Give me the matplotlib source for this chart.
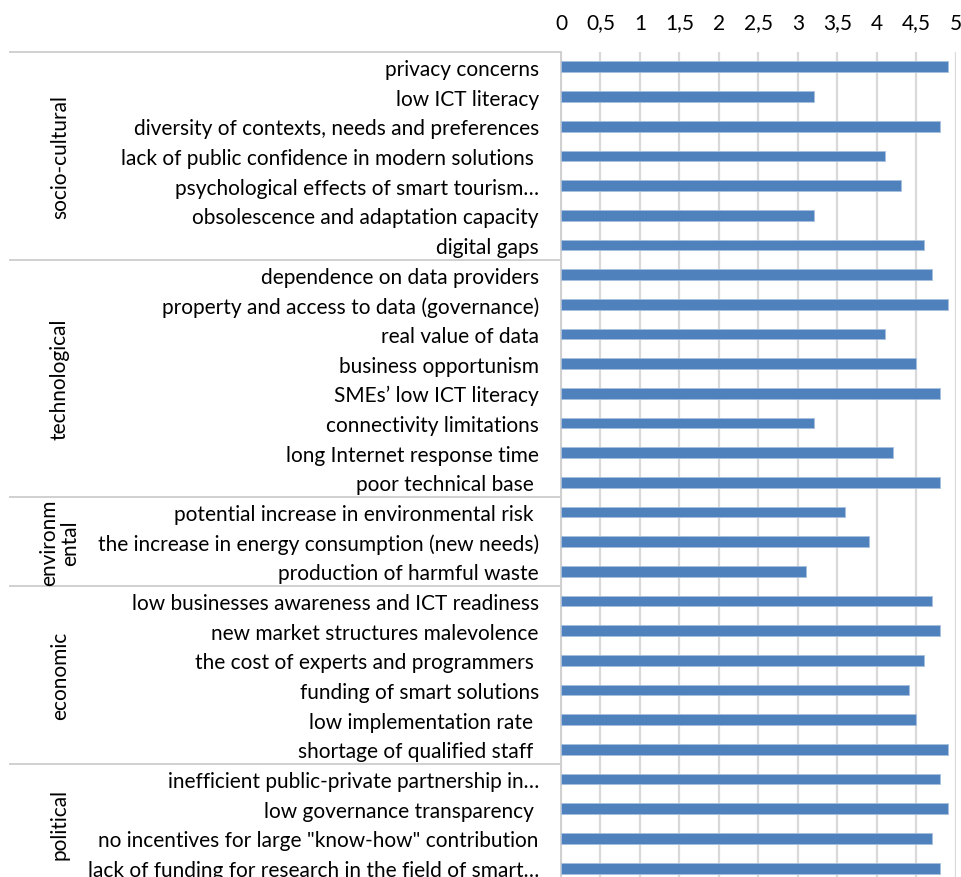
import matplotlib.pyplot as plt
import matplotlib.transforms as mtransforms
from matplotlib.ticker import FuncFormatter, MultipleLocator

# barriers, top to bottom
labels = [
    "privacy concerns",
    "low ICT literacy",
    "diversity of contexts, needs and preferences",
    "lack of public confidence in modern solutions ",
    "psychological effects of smart tourism\u2026",
    "obsolescence and adaptation capacity",
    "digital gaps",
    "dependence on data providers",
    "property and access to data (governance)",
    "real value of data",
    "business opportunism",
    "SMEs\u2019 low ICT literacy",
    "connectivity limitations",
    "long Internet response time",
    "poor technical base ",
    "potential increase in environmental risk ",
    "the increase in energy consumption (new needs)",
    "production of harmful waste",
    "low businesses awareness and ICT readiness",
    "new market structures malevolence",
    "the cost of experts and programmers ",
    "funding of smart solutions",
    "low implementation rate ",
    "shortage of qualified staff ",
    "inefficient public-private partnership in\u2026",
    "low governance transparency ",
    "no incentives for large \"know-how\" contribution",
    "lack of funding for research in the field of smart\u2026",
]
values = [4.9, 3.2, 4.8, 4.1, 4.3, 3.2, 4.6,
          4.7, 4.9, 4.1, 4.5, 4.8, 3.2, 4.2, 4.8,
          3.6, 3.9, 3.1,
          4.7, 4.8, 4.6, 4.4, 4.5, 4.9,
          4.8, 4.9, 4.7, 4.8]
groups = ["socio-cultural", "technological", "environm\nental", "economic", "political"]
group_sizes = [7, 8, 3, 6, 4]

plt.rcParams['font.family'] = ['Lato', 'DejaVu Sans']

fig = plt.figure(figsize=(9.62, 8.78), dpi=100)
ax = fig.add_axes([561 / 962, -6 / 878, 395 / 962, 831 / 878])

pos = list(range(len(labels)))
ax.barh(pos, values, height=0.36, color="#4f81bd", edgecolor="#a7bfde", linewidth=0.6, zorder=3)

ax.set_xlim(0, 5)
ax.set_ylim(len(labels) - 0.5, -0.5)
ax.xaxis.set_major_locator(MultipleLocator(0.5))
ax.xaxis.set_major_formatter(FuncFormatter(lambda v, p: ("%g" % v).replace(".", ",")))
ax.xaxis.tick_top()
ax.grid(axis="x", color="#d9d9d9", linewidth=1.6, zorder=0)
ax.tick_params(axis="x", length=0, labelsize=15, pad=14)
ax.set_yticks(pos)
ax.set_yticklabels(labels)
ax.tick_params(axis="y", length=0, labelsize=15, pad=16)

for s in ["top", "right", "bottom"]:
    ax.spines[s].set_visible(False)
ax.spines["left"].set_color("#d0d0d0")
ax.spines["left"].set_linewidth(1.4)

# group separators and group names
trans = mtransforms.blended_transform_factory(fig.transFigure, ax.transData)
start = 0
for name, n in zip(groups, group_sizes):
    ax.plot([10 / 962, 561 / 962], [start - 0.5, start - 0.5], transform=trans,
            color="#d0d0d0", linewidth=1.4, clip_on=False)
    ax.text(60 / 962, start + (n - 1) / 2, name, transform=trans, rotation=90,
            ha="center", va="center", fontsize=15, linespacing=1.05)
    start += n

plt.savefig("out.png", dpi=100)
